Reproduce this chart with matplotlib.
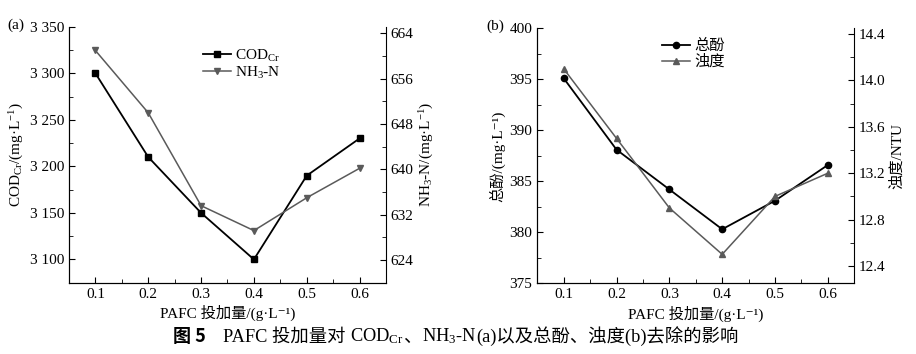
import matplotlib
matplotlib.use("Agg")
import matplotlib.pyplot as plt
from matplotlib.ticker import AutoMinorLocator, FuncFormatter, MultipleLocator
from matplotlib.lines import Line2D

plt.rcParams["font.family"] = ["Liberation Serif", "Noto Sans CJK SC", "DejaVu Sans"]
plt.rcParams["mathtext.fontset"] = "custom"
plt.rcParams["mathtext.rm"] = "Liberation Serif"
plt.rcParams["mathtext.it"] = "Liberation Serif:italic"
plt.rcParams["font.size"] = 11

# dose of PAFC, g/L
dose = [0.1, 0.2, 0.3, 0.4, 0.5, 0.6]

# panel (a)
cod = [3300, 3210, 3150, 3100, 3190, 3230]
nh3n = [661.0, 650.0, 633.6, 629.2, 635.0, 640.2]

# panel (b)
phenol = [395.1, 388.1, 384.2, 380.3, 383.1, 386.6]
turbidity = [14.10, 13.50, 12.90, 12.50, 13.00, 13.20]

dark = "black"
grey = "#5a5a5a"

# mathtext can't do CJK, so those labels use unicode super/subscripts
xlab = "PAFC 投加量/(g·L⁻¹)"


def style_ax(ax, right=False):
    ax.spines["top"].set_visible(False)
    if not right:
        ax.spines["right"].set_visible(False)
    ax.tick_params(which="both", direction="in", labelsize=11)
    ax.tick_params(which="major", length=4)
    ax.tick_params(which="minor", length=3)


def space_thousands(v, pos):
    return f"{int(round(v)):,}".replace(",", " ")


def place_pieces(fig, x, y, pieces, **kw):
    """Write text pieces one after another on a shared baseline."""
    renderer = fig.canvas.get_renderer()
    for s in pieces:
        t = fig.text(x, y, s, va="baseline", **kw)
        bb = t.get_window_extent(renderer)
        x += bb.width / fig.bbox.width
    return x


fig = plt.figure(figsize=(9.16, 3.54), dpi=100)

# ---- panel (a) ----
ax1 = fig.add_axes([0.0753, 0.2014, 0.3461, 0.7232])
ax1.plot(dose, cod, color=dark, marker="s", markersize=4.5, linewidth=1.3)
ax1.set_xlim(0.05, 0.65)
ax1.set_ylim(3075, 3350)
ax1.xaxis.set_major_locator(MultipleLocator(0.1))
ax1.xaxis.set_minor_locator(AutoMinorLocator(2))
ax1.yaxis.set_major_locator(MultipleLocator(50))
ax1.yaxis.set_minor_locator(AutoMinorLocator(2))
ax1.yaxis.set_major_formatter(FuncFormatter(space_thousands))
ax1.xaxis.set_major_formatter(FuncFormatter(lambda v, p: f"{v:.1f}"))
ax1.set_xlabel(xlab, fontsize=11, labelpad=3)
ax1.set_ylabel("COD$_{\\mathrm{Cr}}$/(mg·L$^{-1}$)", fontsize=11, labelpad=3)
style_ax(ax1)

ax1r = ax1.twinx()
ax1r.plot(dose, nh3n, color=grey, marker="v", markersize=5, linewidth=1.1)
ax1r.set_ylim(620, 665.2)
ax1r.yaxis.set_major_locator(MultipleLocator(8))
ax1r.yaxis.set_minor_locator(AutoMinorLocator(2))
ax1r.set_ylabel("NH$_3$-N/(mg·L$^{-1}$)", fontsize=11, labelpad=3)
style_ax(ax1r, right=True)

handles_a = [
    Line2D([], [], color=dark, marker="s", markersize=4.5, linewidth=1.3),
    Line2D([], [], color=grey, marker="v", markersize=5, linewidth=1.1),
]
ax1.legend(handles_a, ["COD$_{\\mathrm{Cr}}$", "NH$_3$-N"], loc="upper left",
           bbox_to_anchor=(0.39, 0.96), frameon=False, fontsize=11,
           handlelength=1.8, handletextpad=0.3, labelspacing=0.05,
           borderpad=0.2)
fig.text(0.008, 0.93, "(a)", fontsize=11, va="center")

# ---- panel (b) ----
ax2 = fig.add_axes([0.5866, 0.1997, 0.346, 0.7203])
ax2.plot(dose, phenol, color=dark, marker="o", markersize=4.5, linewidth=1.3)
ax2.set_xlim(0.05, 0.65)
ax2.set_ylim(375, 400)
ax2.xaxis.set_major_locator(MultipleLocator(0.1))
ax2.xaxis.set_minor_locator(AutoMinorLocator(2))
ax2.yaxis.set_major_locator(MultipleLocator(5))
ax2.yaxis.set_minor_locator(AutoMinorLocator(2))
ax2.xaxis.set_major_formatter(FuncFormatter(lambda v, p: f"{v:.1f}"))
ax2.set_xlabel(xlab, fontsize=11, labelpad=3)
ax2.set_ylabel("总酚/(mg·L⁻¹)", fontsize=11, labelpad=3)
style_ax(ax2)

ax2r = ax2.twinx()
ax2r.plot(dose, turbidity, color=grey, marker="^", markersize=5, linewidth=1.1)
ax2r.set_ylim(12.25, 14.45)
ax2r.yaxis.set_major_locator(MultipleLocator(0.4))
ax2r.yaxis.set_minor_locator(AutoMinorLocator(2))
ax2r.yaxis.set_major_formatter(FuncFormatter(lambda v, p: f"{v:.1f}"))
ax2r.set_ylabel("浊度/NTU", fontsize=11, labelpad=3)
style_ax(ax2r, right=True)

handles_b = [
    Line2D([], [], color=dark, marker="o", markersize=4.5, linewidth=1.3),
    Line2D([], [], color=grey, marker="^", markersize=5, linewidth=1.1),
]
ax2.legend(handles_b, ["总酚", "浊度"], loc="upper left",
           bbox_to_anchor=(0.36, 1.0), frameon=False, fontsize=11,
           handlelength=1.8, handletextpad=0.3, labelspacing=0.1,
           borderpad=0.2)
fig.text(0.531, 0.925, "(b)", fontsize=11, va="center")

# ---- caption ----
fig.text(0.189, 0.035, "图 5", fontsize=13, fontweight="bold",
         family=["Noto Sans CJK SC", "DejaVu Sans"], va="baseline")
place_pieces(fig, 0.243, 0.035,
             ["PAFC 投加量对 ", "COD$_{\\mathrm{Cr}}$", "、",
              "NH$_3$-N", "(a)以及总酚、浊度(b)去除的影响"],
             fontsize=13.2)

fig.savefig("out.png", dpi=100)
